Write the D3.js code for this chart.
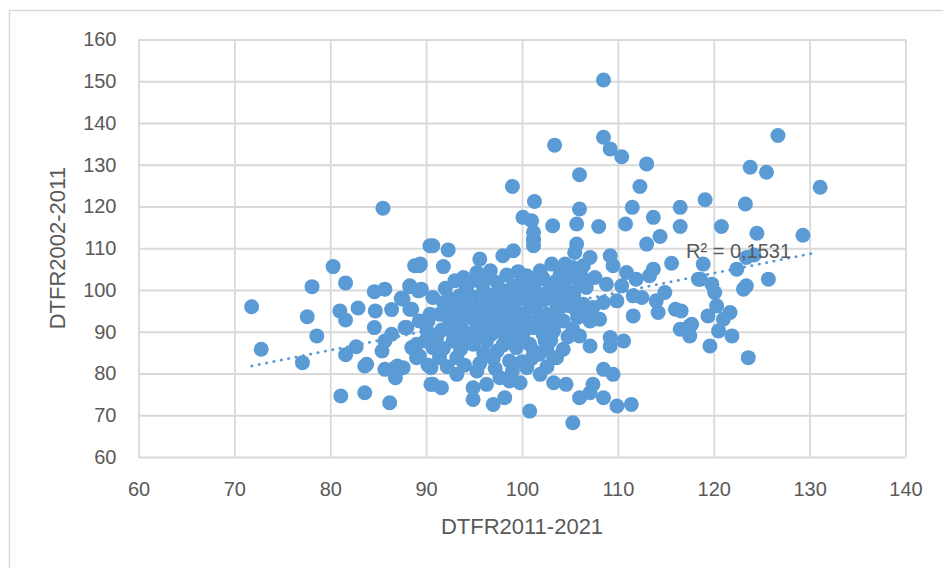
<!DOCTYPE html>
<html>
<head>
<meta charset="utf-8">
<script src="https://cdn.jsdelivr.net/npm/d3@7/dist/d3.min.js"></script>
<style>
  html, body { margin: 0; padding: 0; background: #ffffff; }
  svg { display: block; }
  text { font-family: "Liberation Sans", Arial, sans-serif; fill: #595959; }
</style>
</head>
<body>
<svg id="chart" width="943" height="568"></svg>
<script>
// Scatter: DTFR 2011-2021 (x) against DTFR 2002-2011 (y), one dot per unit.
const xTitle = "DTFR2011-2021";
const yTitle = "DTFR2002-2011";
const xTicks = [60, 70, 80, 90, 100, 110, 120, 130, 140];
const yTicks = [60, 70, 80, 90, 100, 110, 120, 130, 140, 150, 160];
const rSquaredLabel = "R² = 0,1531";

// linear trend y = trendIntercept + trendSlope * x
const trendSlope = 0.461;
const trendIntercept = 48.7;

// DTFR 2011-2021
const dtfr2011_2021 = [
  71.8, 72.8, 77.1, 77.6, 78.1, 78.6, 80.3, 81.1, 81.6, 81.0, 81.6, 81.6, 82.7, 82.9, 83.6, 83.8,
  84.6, 85.7, 84.7, 84.6, 86.4, 87.4, 88.3, 88.3, 89.2, 89.3, 88.8, 90.4, 86.2, 86.8, 83.6, 85.7,
  85.4, 86.4, 87.8, 86.8, 87.0, 85.7, 88.5, 89.3, 89.3, 90.2, 89.9, 90.5, 90.5, 90.2, 85.5,
  90.7, 92.3, 89.4, 91.8, 95.6, 98.0, 99.1, 101.2, 101.2, 93.9, 95.3, 96.7, 97.4, 88.3, 89.5,
  87.6, 88.5, 90.4, 90.7, 91.8, 93.5, 96.0, 99.1, 100.5, 101.9, 103.1, 102.9, 88.0, 90.1, 92.5,
  94.2, 96.0, 97.7, 98.7, 100.8, 102.6, 101.2, 103.3, 89.0, 90.7, 89.0, 91.4, 93.2, 94.9, 96.3,
  97.4, 98.7, 99.4, 101.2, 102.6, 103.3, 100.5, 101.9, 103.3, 93.2, 95.3, 96.3, 94.9, 94.9, 97.0,
  98.2, 100.8, 90.7, 91.6, 87.6, 98.7, 99.8, 97.7, 92.8, 93.9, 90.1, 91.1, 98.4, 100.1, 102.2,
  96.7, 95.3, 98.0, 99.4, 101.9, 100.8, 94.6, 92.8, 91.4, 97.0, 95.6, 94.2, 97.7,
  114.4, 113.0, 105.7, 105.5, 109.2, 109.5, 107.1, 104.5, 105.3, 106.4, 110.9, 111.9, 113.3,
  113.7, 115.6, 118.4, 106.0, 106.7, 108.8, 110.4, 111.6, 112.5, 114.0, 114.9, 114.2, 116.0,
  116.6, 116.5, 117.5, 117.5, 103.6, 104.0, 105.0, 106.4, 107.4, 108.5, 109.9, 111.6, 107.1,
  108.1, 104.3, 105.3, 106.0, 107.1, 109.2, 109.2, 110.6, 104.3, 103.6, 108.5, 109.5, 104.6,
  107.4, 107.1, 106.0, 108.5, 109.9, 111.4, 105.3, 103.6, 104.0, 103.3, 105.7,
  124.5, 129.3, 118.9, 118.6, 122.4, 124.2, 125.7, 119.8, 120.1, 123.4, 123.1, 120.3, 121.7,
  121.0, 119.4, 117.7, 120.5, 121.9, 119.6, 123.6,
  126.7, 113.0, 123.8, 125.5, 112.3, 131.1, 116.5, 119.1, 113.7, 116.5, 120.8, 123.3, 123.4,
  108.5, 108.5, 109.2, 110.4, 103.4, 106.0, 99.0, 101.3, 106.0, 111.5, 100.1, 101.0, 103.2,
  105.7, 108.0, 110.8, 101.2, 101.2,
  92.0, 93.0, 94.6, 95.8, 96.6, 98.4, 99.6, 100.2, 101.4, 102.2, 92.6, 93.6, 94.8, 96.2, 97.2,
  98.6, 99.8, 100.6, 101.6, 102.4, 92.2, 93.4, 94.4, 95.0, 96.6, 97.4, 98.2, 99.6, 100.4, 101.8,
  102.8, 91.6, 92.8, 94.0, 95.4, 96.8, 97.8, 99.2, 100.6, 102.0, 103.0, 91.8, 93.6, 96.0, 97.0,
  98.0, 99.6, 100.8, 101.8, 95.6, 97.2, 99.0, 100.0, 92.2, 94.0, 101.0, 102.6, 96.8, 98.8, 93.0,
  95.8, 99.4, 103.6, 104.6, 105.4, 104.8, 106.2, 107.6, 103.0, 104.0, 105.8, 106.6, 104.8, 102.4
];

// DTFR 2002-2011
const dtfr2002_2011 = [
  96.0, 85.8, 82.6, 93.6, 100.8, 89.0, 105.6, 74.6, 101.7, 95.0, 92.8, 84.5, 86.4, 95.7, 75.4, 82.2,
  99.6, 100.2, 95.0, 91.0, 95.3, 98.0, 100.8, 95.4, 99.8, 105.8, 105.8, 110.6, 73.0, 79.0, 81.8, 87.8,
  85.4, 89.4, 91.0, 81.4, 81.8, 81.0, 86.2, 84.2, 92.6, 92.6, 87.8, 81.4, 77.4, 82.0, 119.6,
  110.6, 109.6, 106.2, 105.6, 107.4, 108.2, 109.4, 112.0, 110.6, 103.0, 104.2, 104.6, 101.8, 101.0, 100.2,
  97.8, 95.4, 94.2, 98.2, 97.0, 98.6, 99.8, 101.0, 103.4, 104.6, 106.2, 101.4, 91.0, 92.6, 91.8,
  93.4, 94.2, 95.0, 91.8, 95.8, 94.2, 91.0, 90.2, 87.0, 86.2, 83.8, 83.8, 83.8, 87.0, 87.8,
  85.4, 83.0, 86.2, 85.4, 86.2, 83.8, 81.4, 79.8, 77.8, 79.8, 80.6, 77.4, 76.6, 73.8, 72.6,
  74.2, 71.0, 77.4, 76.6, 81.4, 78.2, 77.8, 79.0, 87.8, 90.2, 90.2, 88.6, 88.6, 89.4, 89.4,
  91.0, 91.0, 98.2, 97.4, 99.0, 99.8, 96.6, 95.8, 94.2, 97.4, 95.8, 100.6, 100.2,
  112.8, 111.0, 111.0, 109.0, 108.2, 105.8, 107.8, 106.2, 105.4, 105.8, 104.2, 102.6, 103.4,
  105.0, 106.4, 102.6, 101.0, 100.6, 101.4, 101.0, 98.6, 98.2, 97.4, 99.4, 94.6, 95.4,
  95.0, 90.6, 91.4, 89.0, 101.0, 98.2, 96.2, 96.6, 95.8, 97.0, 97.4, 93.8, 92.6,
  93.0, 92.6, 90.6, 89.0, 86.6, 88.6, 86.6, 87.8, 85.8, 83.8, 81.0, 79.8, 77.4,
  77.4, 75.4, 74.2, 74.2, 72.2, 72.6, 68.2, 102.2, 95.8, 94.2, 95.0,
  113.6, 113.1, 106.2, 102.6, 105.0, 108.4, 102.6, 101.4, 99.4, 101.0, 100.2, 96.2, 94.6,
  93.0, 93.8, 91.8, 90.2, 89.0, 86.6, 83.8,
  137.0, 130.2, 129.4, 128.2, 124.8, 124.6, 119.8, 121.6, 117.4, 115.2, 115.2, 120.6, 107.8,
  150.3, 136.6, 133.8, 131.9, 134.7, 127.6, 124.8, 121.2, 119.4, 119.8, 117.4, 116.6, 115.4,
  115.8, 115.2, 115.8, 113.8, 112.2,
  100.4, 102.2, 102.0, 101.6, 102.8, 103.6, 104.4, 102.0, 101.8, 102.8, 97.8, 96.2, 98.4, 97.2, 99.0,
  99.8, 99.6, 97.6, 96.8, 97.8, 93.6, 94.8, 95.2, 93.0, 93.2, 92.6, 93.6, 94.4, 93.0, 93.4,
  92.0, 90.4, 89.6, 88.6, 89.2, 89.4, 90.0, 90.8, 91.4, 91.0, 88.0, 86.0, 85.8, 85.0, 83.6,
  86.8, 87.8, 87.0, 84.6, 82.4, 81.2, 80.6, 82.8, 81.6, 82.0, 83.6, 81.6, 95.8, 96.0, 92.2,
  92.0, 92.6, 96.6, 100.0, 98.6, 102.8, 103.2, 103.0, 99.2, 104.0, 93.4, 94.4, 88.8, 87.8
];

const W = 943, H = 568;
const plot = { left: 138.5, right: 905.5, top: 39.5, bottom: 457 };
const blue = "#5b9bd5";
const grid = "#d9d9d9";

const svg = d3.select("#chart");

// chart area border
svg.append("rect")
  .attr("x", 9.5).attr("y", 10.5)
  .attr("width", W + 20).attr("height", H + 20)
  .attr("fill", "#ffffff")
  .attr("stroke", grid).attr("stroke-width", 1.5);

const x = d3.scaleLinear().domain([60, 140]).range([plot.left, plot.right]);
const y = d3.scaleLinear().domain([60, 160]).range([plot.bottom, plot.top]);

// vertical gridlines + x tick labels
const gx = svg.append("g")
  .attr("transform", `translate(0,${plot.bottom})`)
  .call(d3.axisBottom(x).tickValues(xTicks).tickSize(-(plot.bottom - plot.top)).tickPadding(25));
gx.select(".domain").remove();
gx.selectAll(".tick line").attr("stroke", grid).attr("stroke-width", 1.8);
gx.selectAll(".tick text").attr("font-size", 20).attr("fill", "#595959")
  .style("font-family", '"Liberation Sans", Arial, sans-serif');

// horizontal gridlines + y tick labels
const gy = svg.append("g")
  .attr("transform", `translate(${plot.left},0)`)
  .call(d3.axisLeft(y).tickValues(yTicks).tickSize(-(plot.right - plot.left)).tickPadding(22));
gy.select(".domain").remove();
gy.selectAll(".tick line").attr("stroke", grid).attr("stroke-width", 1.8);
gy.selectAll(".tick text").attr("font-size", 20).attr("fill", "#595959")
  .style("font-family", '"Liberation Sans", Arial, sans-serif');

// axis titles
svg.append("text")
  .attr("x", (plot.left + plot.right) / 2)
  .attr("y", 534)
  .attr("text-anchor", "middle")
  .attr("font-size", 22)
  .text(xTitle);

svg.append("text")
  .attr("transform", `translate(65,${(plot.top + plot.bottom) / 2}) rotate(-90)`)
  .attr("text-anchor", "middle")
  .attr("font-size", 22)
  .text(yTitle);

// points
const points = dtfr2011_2021.map((v, i) => ({ x: v, y: dtfr2002_2011[i] }));
svg.append("g")
  .selectAll("circle")
  .data(points)
  .join("circle")
  .attr("cx", d => x(d.x))
  .attr("cy", d => y(d.y))
  .attr("r", 7.5)
  .attr("fill", blue);

// dotted trend line across the data range
const [xmin, xmax] = d3.extent(points, d => d.x);
const trend = [xmin, xmax - 0.7].map(v => ({ x: v, y: trendIntercept + trendSlope * v }));

svg.append("path")
  .datum(trend)
  .attr("d", d3.line().x(d => x(d.x)).y(d => y(d.y)))
  .attr("fill", "none")
  .attr("stroke", blue)
  .attr("stroke-width", 2.75)
  .attr("stroke-linecap", "round")
  .attr("stroke-dasharray", "0.4 7.1");

// R² annotation
svg.append("text")
  .attr("x", 686)
  .attr("y", 258)
  .attr("font-size", 20)
  .text(rSquaredLabel);
</script>
</body>
</html>
